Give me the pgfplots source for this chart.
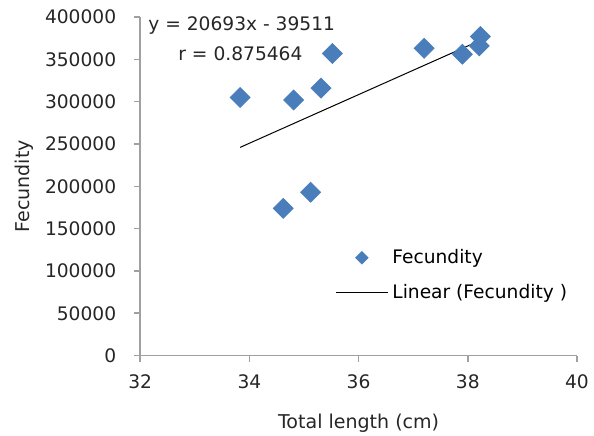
\documentclass[border=0pt]{standalone}
\usepackage{pgfplots}
\pgfplotsset{compat=1.18}
\usepackage{fontspec}
\setmainfont{DejaVu Sans}
\definecolor{fecblue}{HTML}{4A7EBB}
\definecolor{axgray}{HTML}{A0A0A0}
\pgfplotsset{
  legmark/.style={legend image code/.code={%
    \draw[##1, mark size=2.2pt] plot coordinates {(13pt,0pt)};}},
  legline/.style={legend image code/.code={%
    \draw[##1] (0pt,0pt) -- (26pt,0pt);}},
}
\begin{document}
\begin{tikzpicture}
\begin{axis}[
  scale only axis, width=218pt, height=169pt,
  xmin=32, xmax=40, ymin=0, ymax=400000,
  xtick={32,34,36,38,40},
  xticklabels={32,34,36,38,40},
  ytick={0,50000,100000,150000,200000,250000,300000,350000,400000},
  yticklabels={0,50000,100000,150000,200000,250000,300000,350000,400000},
  axis lines=left,
  axis line style={-, axgray, line width=0.8pt},
  tick style={axgray, line width=0.8pt},
  tick align=outside, major tick length=3pt,
  scaled y ticks=false,
  yticklabel style={xshift=-5.5pt},
  xticklabel style={yshift=-3pt},
  tick label style={font=\fontsize{9.3}{10}\selectfont, text=black!85},
  label style={font=\fontsize{9.5}{11}\selectfont, text=black!85},
  xlabel={Total length (cm)}, ylabel={Fecundity},
  xlabel style={yshift=-5.5pt},
  ylabel style={yshift=-1pt},
  legend style={draw=none, fill=none, at={(0.432,0.339)}, anchor=north west,
    font=\fontsize{9.3}{10}\selectfont, row sep=5pt},
  legend cell align=left,
  clip=false,
]
% diamonds drawn as squares turned by 45 degrees
\addplot[only marks, mark=square*, mark size=3.5pt,
  mark options={fill=fecblue, draw=fecblue, rotate=45}, legmark]
  coordinates {
  (33.83,305000) (34.81,302000) (35.31,316000) (35.52,357000)
  (34.62,174000) (35.12,193000) (37.20,363000) (37.90,356000)
  (38.21,366000) (38.23,377000)
};
\addlegendentry{Fecundity}
\addplot[black, line width=0.5pt, legline]
  coordinates {(33.83,246000) (38.25,373000)};
\addlegendentry{Linear (Fecundity )}
\node[anchor=west, font=\fontsize{9.3}{10}\selectfont, text=black!85]
  at (axis cs:32.02,390000) {y = 20693x - 39511};
\node[anchor=west, font=\fontsize{9.3}{10}\selectfont, text=black!85]
  at (axis cs:32.57,357000) {r = 0.875464};
\end{axis}
% page frame around the plot area
\pgfresetboundingbox
\path ([shift={(-70pt,-40pt)}]current axis.south west)
  rectangle ([shift={(8.5pt,8.5pt)}]current axis.north east);
\end{tikzpicture}
\end{document}
